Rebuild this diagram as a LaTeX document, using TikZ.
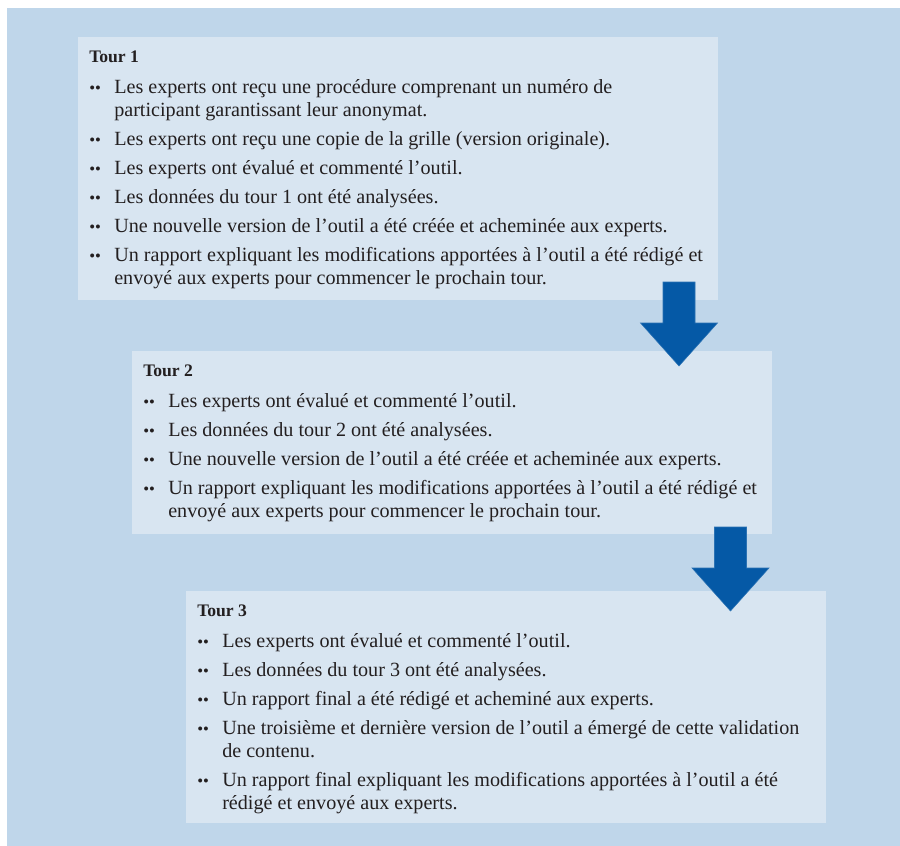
\documentclass[tikz,border=0pt]{standalone}
\usepackage{fontspec}
\setmainfont{Liberation Serif}
\definecolor{bgblue}{HTML}{BFD6EA}
\definecolor{boxblue}{HTML}{D8E5F1}
\definecolor{arrowblue}{HTML}{0559A6}
\definecolor{txt}{HTML}{231F20}
\newcommand{\myitem}[4]{%
  \node[bulletmark] (#1d) at (#2,#3) {••};
  \node[itemtext] (#1) at (#2+25,#3) {#4};
}
\newcommand{\mytwo}[2]{\vtop{\hbox{#1}\hbox{#2}}}
\begin{document}
\begin{tikzpicture}[x=0.75pt,y=-0.75pt,
  panel/.style={rectangle, fill=boxblue, draw=none, inner sep=0pt, anchor=north west,
    minimum width=480pt},
  titletext/.style={anchor=base west, inner sep=0pt, text=txt,
    font=\fontsize{13.2}{16}\selectfont\bfseries},
  itemtext/.style={anchor=base west, inner sep=0pt, text=txt,
    font=\fontsize{15.1}{17}\selectfont},
  bulletmark/.style={anchor=base west, inner sep=0pt, text=txt,
    font=\fontsize{12.5}{14}\selectfont},
  blockarrow/.style={fill=arrowblue, draw=arrowblue!85!white, line width=0.4pt}
]
\useasboundingbox (0,0) rectangle (900,846);
\fill[white] (0,0) rectangle (900,846);
\fill[bgblue] (7,8) rectangle (900,846);

% panels
\node[panel, minimum height=197.25pt] (p1) at (78,37) {};
\node[panel, minimum height=137.25pt] (p2) at (132,351) {};
\node[panel, minimum height=174pt] (p3) at (186,591) {};

% panel 1
\node[titletext] (t1) at (89,62) {Tour 1};
\myitem{a1}{89}{93.7}{\mytwo{Les experts ont reçu une procédure comprenant un numéro de}{participant garantissant leur anonymat.}}
\myitem{a2}{89}{145.4}{Les experts ont reçu une copie de la grille (version originale).}
\myitem{a3}{89}{174.4}{Les experts ont évalué et commenté l’outil.}
\myitem{a4}{89}{203.4}{Les données du tour 1 ont été analysées.}
\myitem{a5}{89}{232.4}{Une nouvelle version de l’outil a été créée et acheminée aux experts.}
\myitem{a6}{89}{261.4}{\mytwo{Un rapport expliquant les modifications apportées à l’outil a été rédigé et}{envoyé aux experts pour commencer le prochain tour.}}

% panel 2
\node[titletext] (t2) at (143,376) {Tour 2};
\myitem{b1}{143}{407.7}{Les experts ont évalué et commenté l’outil.}
\myitem{b2}{143}{436.7}{Les données du tour 2 ont été analysées.}
\myitem{b3}{143}{465.7}{Une nouvelle version de l’outil a été créée et acheminée aux experts.}
\myitem{b4}{143}{494.7}{\mytwo{Un rapport expliquant les modifications apportées à l’outil a été rédigé et}{envoyé aux experts pour commencer le prochain tour.}}

% panel 3
\node[titletext] (t3) at (197,616) {Tour 3};
\myitem{c1}{197}{647.7}{Les experts ont évalué et commenté l’outil.}
\myitem{c2}{197}{676.7}{Les données du tour 3 ont été analysées.}
\myitem{c3}{197}{705.7}{Un rapport final a été rédigé et acheminé aux experts.}
\myitem{c4}{197}{734.7}{\mytwo{Une troisième et dernière version de l’outil a émergé de cette validation}{de contenu.}}
\myitem{c5}{197}{786.4}{\mytwo{Un rapport final expliquant les modifications apportées à l’outil a été}{rédigé et envoyé aux experts.}}

% block arrows
\coordinate (ar1) at (679,282);
\coordinate (ar2) at (730.5,527);
\foreach \a in {ar1,ar2}{
  \filldraw[blockarrow] (\a) +(-16,0) -- +(16,0) -- +(16,41) -- +(38.5,41)
    -- +(0,84) -- +(-38.5,41) -- +(-16,41) -- cycle;
}
\end{tikzpicture}
\end{document}
